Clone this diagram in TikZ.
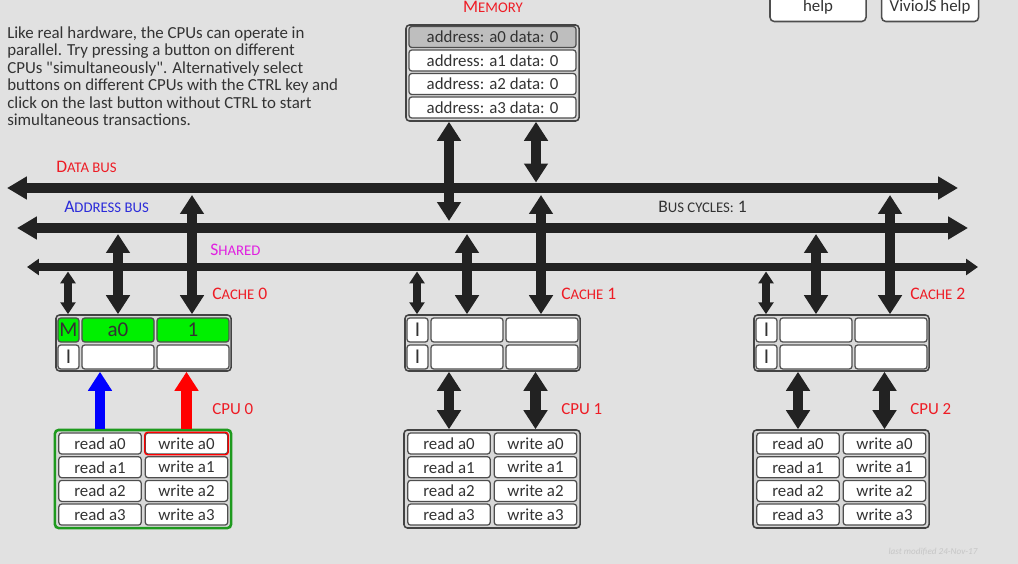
\documentclass[tikz,border=0pt]{standalone}
\usepackage{fontspec}
\setmainfont{Carlito}
\usepackage{tikz}
\usetikzlibrary{arrows.meta}
\usetikzlibrary{positioning}

\definecolor{bg}{HTML}{E1E1E1}
\definecolor{framebg}{HTML}{D8D8D8}
\definecolor{ink}{HTML}{222222}
\definecolor{txt}{HTML}{333333}
\definecolor{lblred}{HTML}{EE1C25}
\definecolor{lblblue}{HTML}{2B2BD9}
\definecolor{lblmag}{HTML}{E020E0}
\definecolor{cgreen}{HTML}{00F000}
\definecolor{cpugreen}{HTML}{1E9A1E}
\definecolor{memgray}{HTML}{BEBEBE}

% big first letter, rest in small capitals
\newcommand{\smc}[2]{#1{\fontsize{10.5}{11}\selectfont\MakeUppercase{#2}}}

\tikzstyle{frame} =
[
	draw=ink!85,line width=1.1pt,rounded corners=2.5pt,fill=framebg
]
\tikzstyle{cell} =
[
	draw=ink!80,line width=0.9pt,rounded corners=2pt,fill=white,
	inner sep=0pt,text=txt,font=\fontsize{15}{15}\selectfont
]
\tikzstyle{btn} =
[
	cell,minimum width=2.06cm,minimum height=0.525cm,
	font=\fontsize{12}{12}\selectfont
]
\tikzstyle{memrow} =
[
	cell,minimum width=4.175cm,minimum height=0.525cm,
	font=\fontsize{12}{12}\selectfont
]
\tikzstyle{lbl} = [inner sep=0pt,anchor=west,font=\fontsize{12.5}{13}\selectfont]
\tikzstyle{bus}   = [ink,line width=7.8pt,{Triangle[length=14.2pt,width=15.6pt]}-{Triangle[length=14.2pt,width=15.6pt]}]
\tikzstyle{sbus}  = [ink,line width=5.7pt,{Triangle[length=8.5pt,width=11.3pt]}-{Triangle[length=8.5pt,width=11.3pt]}]
\tikzstyle{link}  = [ink,line width=7.8pt,{Triangle[length=13.5pt,width=16.3pt]}-{Triangle[length=13.5pt,width=16.3pt]}]
\tikzstyle{slink} = [ink,line width=5pt,{Triangle[length=8.5pt,width=10.6pt]}-{Triangle[length=8.5pt,width=10.6pt]}]
\tikzstyle{req}   = [line width=7.8pt,-{Triangle[length=13.5pt,width=16.3pt]}]

\begin{document}
\begin{tikzpicture}[x=0.025cm,y=-0.025cm,font=\fontsize{12}{12.4}\selectfont]

\clip (0,0) rectangle (1018,564);
\fill[bg] (0,0) rectangle (1018,564);

\node[inner sep=0pt,anchor=north west,align=left,text=txt] (intro) at (7,26.5)
	{Like real hardware, the CPUs can operate in\\
	 parallel. Try pressing a button on different\\
	 CPUs \textquotedbl simultaneously\textquotedbl. Alternatively select\\
	 buttons on different CPUs with the CTRL key and\\
	 click on the last button without CTRL to start\\
	 simultaneous transactions.};

\node[cell,font=\fontsize{12}{12}\selectfont,rounded corners=3pt,line width=1.1pt,
	minimum width=2.4cm,minimum height=0.7cm] (help) at (818,7.5) {help};
\node[cell,font=\fontsize{12}{12}\selectfont,rounded corners=3pt,line width=1.1pt,
	minimum width=2.425cm,minimum height=0.7cm] (vhelp) [right=0.35cm of help] {VivioJS help};

% memory
\node[frame,minimum width=4.325cm,minimum height=2.4cm] (mem) at (492.5,73) {};
\node[memrow,fill=memgray] (m0) at (492.5,37) {address: a0 data: 0};
\node[memrow] (m1) at (492.5,60.5) {address: a1 data: 0};
\node[memrow] (m2) at (492.5,84) {address: a2 data: 0};
\node[memrow] (m3) at (492.5,107.5) {address: a3 data: 0};
\node[lbl,anchor=center,text=lblred] (memlbl) at (493,7) {\smc{M}{emory}};

% buses
\coordinate (db-w) at (7,188);   \coordinate (db-e) at (958,188);
\coordinate (ab-w) at (17,228);  \coordinate (ab-e) at (968,228);
\coordinate (sb-w) at (27,267);  \coordinate (sb-e) at (978,267);
\draw[bus] (db-w) -- (db-e);
\draw[bus] (ab-w) -- (ab-e);
\draw[sbus] (sb-w) -- (sb-e);

\node[lbl,text=lblred] (dblbl) at (56,167) {\smc{D}{ata bus}};
\node[lbl,text=lblblue] (ablbl) at (64,207) {\smc{A}{ddress bus}};
\node[lbl,text=lblmag] (sblbl) at (210,250) {\smc{S}{hared}};
\node[lbl,text=txt] (cyc) at (658,207) {\smc{B}{us cycles:} 1};

\coordinate (ab-m) at (449,221);
\coordinate (db-m) at (536,182.5);
\draw[link] (ab-m |- mem.south) -- (ab-m);
\draw[link] (db-m |- mem.south) -- (db-m);

% caches
\foreach \i/\dx/\st/\ad/\dt/\fc in {0/0/M/a0/1/cgreen,1/349/I/{}/{}/white,2/698/I/{}/{}/white}
{
	\node[frame,minimum width=4.375cm,minimum height=1.4cm] (cache\i) at (\dx+143.5,343) {};
	\node[cell,fill=\fc,minimum width=0.525cm,minimum height=0.6cm] (cs\i-1) at (\dx+68.5,330) {\st};
	\node[cell,fill=\fc,minimum width=1.8cm,minimum height=0.6cm] (ca\i-1) at (\dx+118,330) {\ad};
	\node[cell,fill=\fc,minimum width=1.8cm,minimum height=0.6cm] (cd\i-1) at (\dx+193,330) {\dt};
	\node[cell,minimum width=0.525cm,minimum height=0.6cm] (cs\i-2) at (\dx+68.5,357) {I};
	\node[cell,minimum width=1.8cm,minimum height=0.6cm] (ca\i-2) at (\dx+118,357) {};
	\node[cell,minimum width=1.8cm,minimum height=0.6cm] (cd\i-2) at (\dx+193,357) {};
	\node[lbl,text=lblred] (clbl\i) at (\dx+212,294) {\smc{C}{ache} \i};

	\coordinate (sh\i) at (\dx+68,271.5);
	\coordinate (ad\i) at (\dx+118,234);
	\coordinate (da\i) at (\dx+192,195);
	\draw[slink] (sh\i) -- (sh\i |- cache\i.north);
	\draw[link] (ad\i) -- (ad\i |- cache\i.north);
	\draw[link] (da\i) -- (da\i |- cache\i.north);
}

% cpus
\foreach \i/\dx/\fr/\lw in {0/0/cpugreen/1.8pt,1/349/ink!85/1.1pt,2/698/ink!85/1.1pt}
{
	\node[frame,draw=\fr,line width=\lw,minimum width=4.4cm,minimum height=2.45cm] (cpu\i) at (\dx+143,479) {};
	\foreach \r in {0,...,3}
	{
		\node[btn] (rd\i-\r) at (\dx+100,443.5+23.7*\r) {read a\r};
		\node[btn] (wr\i-\r) at (\dx+186.5,443.5+23.7*\r) {write a\r};
	}
	\node[lbl,font=\fontsize{12}{12}\selectfont,text=lblred] (plbl\i) at (\dx+212,409) {CPU \i};
}
\draw[red,line width=0.9pt,rounded corners=2pt] (wr0-0.south west) rectangle (wr0-0.north east);

\draw[req,blue] (rd0-0.north |- cpu0.north) -- (rd0-0.north |- cache0.south);
\draw[req,red] (wr0-0.north |- cpu0.north) -- (wr0-0.north |- cache0.south);
\foreach \i in {1,2}
{
	\draw[link] (rd\i-0.north |- cache\i.south) -- (rd\i-0.north |- cpu\i.north);
	\draw[link] (wr\i-0.north |- cache\i.south) -- (wr\i-0.north |- cpu\i.north);
}

\node[inner sep=0pt,text=gray!45,font=\fontsize{6.5}{7}\itshape] (mod) at (933,552) {last modified 24-Nov-17};

\end{tikzpicture}
\end{document}
